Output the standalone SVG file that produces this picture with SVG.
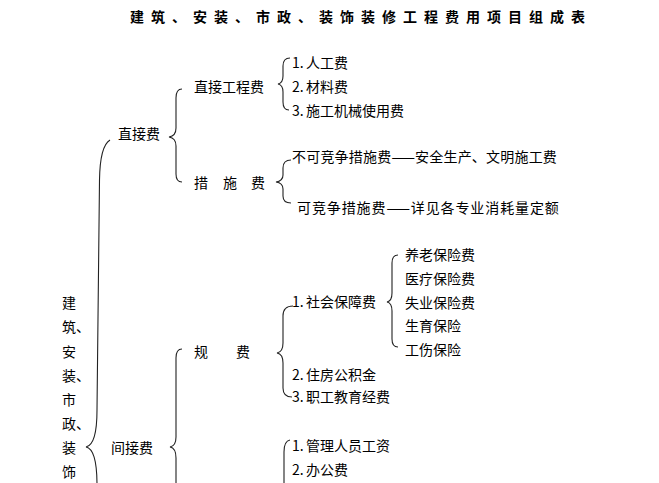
<svg xmlns="http://www.w3.org/2000/svg" width="659" height="483" viewBox="0 0 659 483">
<style>
text{font-family:"Noto Sans CJK SC","Noto Sans",sans-serif;font-size:14px;fill:#000}
.title{font-weight:bold;letter-spacing:7px}
.brace{fill:none;stroke:#222;stroke-width:1.1}
</style>
<rect width="659" height="483" fill="#fff"/>
<text class="title" x="130" y="22">建筑、安装、市政、装饰装修工程费用项目组成表</text>

<g id="connectors">
<path class="brace" d="M110,140 Q100,146 99.5,180 L97,410 Q97,445 86,447 Q97,449 97,485"/>
<path class="brace" d="M182,89 Q176,89 176,98 L176,128 Q176,136 169,137 Q176,138 176,146 L176,174 Q176,182 182,182"/>
<path class="brace" d="M182,349 Q176,349 176,358 L176,437 Q176,446 170,447 Q176,448 176,458 L176,485"/>
<path class="brace" d="M290,58 Q283,58 283,66 L283,76 Q283,83 278,84 Q283,85 283,92 L283,102 Q283,110 289,110"/>
<path class="brace" d="M291,160 Q283,160 283,168 L283,175 Q283,181 276,182 Q283,183 283,189 L283,196 Q283,203 291,203"/>
<path class="brace" d="M293,306 Q283,306 283,316 L283,343 Q283,352 277,353 Q283,354 283,363 L283,388 Q283,397 292,397"/>
<path class="brace" d="M398,255 Q392,255 392,263 L392,293 Q392,301 387,302 Q392,303 392,311 L392,339 Q392,347 398,347"/>
<path class="brace" d="M290,440 Q284,441 284,452 L284,485"/>
</g>

<g id="root">
<text x="62" y="308">建</text>
<text x="62" y="332">筑、</text>
<text x="62" y="357">安</text>
<text x="62" y="381">装、</text>
<text x="62" y="405">市</text>
<text x="62" y="429">政、</text>
<text x="62" y="453">装</text>
<text x="62" y="477">饰</text>
</g>

<g id="n-zhijiefei"><text x="118" y="139">直接费</text></g>
<g id="n-zhijiegongchengfei"><text x="194" y="92">直接工程费</text></g>
<g id="n-rengong"><text x="292" y="68"><tspan>1.</tspan><tspan x="306">人工费</tspan></text></g>
<g id="n-cailiao"><text x="292" y="92"><tspan>2.</tspan><tspan x="306">材料费</tspan></text></g>
<g id="n-jixie"><text x="292" y="116"><tspan>3.</tspan><tspan x="306">施工机械使用费</tspan></text></g>

<g id="n-cuoshifei"><text y="188"><tspan x="194">措</tspan><tspan x="223">施</tspan><tspan x="251">费</tspan></text></g>
<g id="n-bukejingzheng"><text x="292" y="162" style="letter-spacing:0.2px">不可竞争措施费——安全生产、文明施工费</text></g>
<g id="n-kejingzheng"><text x="297" y="213" style="letter-spacing:0.9px">可竞争措施费——详见各专业消耗量定额</text></g>

<g id="n-jianjiefei"><text x="111" y="453">间接费</text></g>
<g id="n-guifei"><text y="357"><tspan x="194">规</tspan><tspan x="236">费</tspan></text></g>
<g id="n-shehui"><text x="292" y="307"><tspan>1.</tspan><tspan x="306">社会保障费</tspan></text></g>
<g id="n-zhufang"><text x="292" y="380"><tspan>2.</tspan><tspan x="306">住房公积金</tspan></text></g>
<g id="n-zhigong"><text x="292" y="402"><tspan>3.</tspan><tspan x="306">职工教育经费</tspan></text></g>
<g id="n-yanglao"><text x="405" y="260">养老保险费</text></g>
<g id="n-yiliao"><text x="405" y="284">医疗保险费</text></g>
<g id="n-shiye"><text x="405" y="308">失业保险费</text></g>
<g id="n-shengyu"><text x="405" y="331">生育保险</text></g>
<g id="n-gongshang"><text x="405" y="355">工伤保险</text></g>
<g id="n-guanli"><text x="292" y="451"><tspan>1.</tspan><tspan x="306">管理人员工资</tspan></text></g>
<g id="n-bangong"><text x="292" y="475"><tspan>2.</tspan><tspan x="306">办公费</tspan></text></g>
</svg>
